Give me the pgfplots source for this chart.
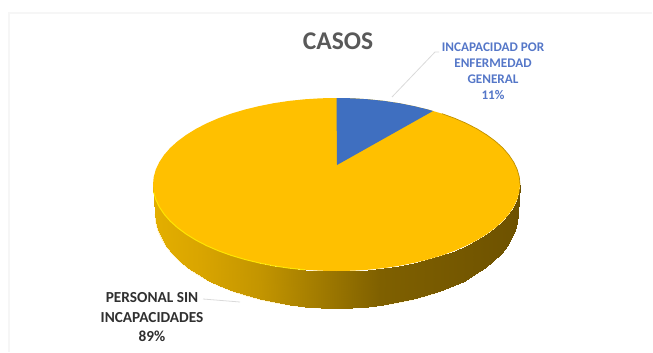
\documentclass[border=0pt]{standalone}
\usepackage{pgfplots}
\pgfplotsset{compat=1.18}
\usepackage{fontspec}
\setmainfont{Carlito}
\definecolor{gold}{HTML}{FFC000}
\definecolor{sliceblue}{HTML}{3F6FC0}
\definecolor{titlegray}{HTML}{595959}
\definecolor{labelblue}{HTML}{5577C8}
\definecolor{labeldark}{HTML}{303030}
\definecolor{leader}{HTML}{DADADA}
\definecolor{frameline}{HTML}{F6F6F6}
\begin{document}
\begin{tikzpicture}
\begin{axis}[
  scale only axis, width=653pt, height=353pt,
  xmin=0, xmax=653, ymin=0, ymax=353, y dir=reverse,
  axis lines=none, clip=false,
  % rim of the disc: lit on the left, in shade on the right
  colormap={rimgold}{
    rgb255(155pt)=(227,174,0) rgb255(200pt)=(217,165,0) rgb255(260pt)=(195,149,0)
    rgb255(330pt)=(155,118,0) rgb255(380pt)=(127,96,0) rgb255(517pt)=(110,82,0)},
  point meta min=155, point meta max=517,
]
% keeps the full chart area in the page
\path (axis cs:0,0) rectangle (axis cs:653,353);

% chart area frame
\addplot[frameline, line width=1.5pt] coordinates {(9,352) (9,13) (652,13)};

% soft edge under the rim
\addplot[color=gold!25, line width=1.6pt] coordinates {
(155.5,214) (156.2,222.2) (158.3,230.3) (161.7,238.3) (166.4,246.1) (172.5,253.7) (179.7,261) (188.2,267.9) (197.8,274.4) (208.5,280.5) (220.2,286) (232.7,291) (246,295.4) (260,299.2) (274.6,302.3) (289.7,304.8) (305.1,306.6) (320.7,307.6) (336.5,308) (352.3,307.6) (367.9,306.6) (383.3,304.8) (398.4,302.3) (413,299.2) (427,295.4) (440.3,291) (452.8,286) (464.5,280.5) (475.2,274.4) (484.8,267.9) (493.3,261) (500.5,253.7) (506.6,246.1) (511.3,238.3) (514.7,230.3) (516.8,222.2) (517.5,214)};

% rim of the disc: upper and lower edge as a two-row lattice
\addplot[patch, patch type=rectangle, mesh input=lattice, mesh/cols=37,
  shader=interp, point meta=x] coordinates {
(153,184.5) (153.7,192) (155.8,199.5) (159.3,206.9) (164.1,214.1) (170.2,221.1) (177.6,227.75) (186.2,234.1) (195.9,240.1) (206.7,245.7) (218.5,250.8) (231.2,255.4) (244.75,259.4) (259,262.9) (273.7,265.8) (289,268.1) (304.6,269.7) (320.5,270.7) (336.5,271) (352.5,270.7) (368.4,269.7) (384,268.1) (399.3,265.8) (414,262.9) (428.25,259.4) (441.8,255.4) (454.5,250.8) (466.3,245.7) (477.1,240.1) (486.8,234.1) (495.4,227.75) (502.8,221.1) (508.9,214.1) (513.7,206.9) (517.2,199.5) (519.3,192) (520,184.5)

(155.5,214) (156.2,222.2) (158.3,230.3) (161.7,238.3) (166.4,246.1) (172.5,253.7) (179.7,261) (188.2,267.9) (197.8,274.4) (208.5,280.5) (220.2,286) (232.7,291) (246,295.4) (260,299.2) (274.6,302.3) (289.7,304.8) (305.1,306.6) (320.7,307.6) (336.5,308) (352.3,307.6) (367.9,306.6) (383.3,304.8) (398.4,302.3) (413,299.2) (427,295.4) (440.3,291) (452.8,286) (464.5,280.5) (475.2,274.4) (484.8,267.9) (493.3,261) (500.5,253.7) (506.6,246.1) (511.3,238.3) (514.7,230.3) (516.8,222.2) (517.5,214)};

% top face: PERSONAL SIN INCAPACIDADES, 89 %
\addplot[draw=none, fill=gold] coordinates {
(336.5,98) (352.5,98.3) (368.4,99.3) (384,100.9) (399.3,103.2) (414,106.1) (428.25,109.6) (441.8,113.6) (454.5,118.2) (466.3,123.3) (477.1,128.9) (486.8,134.9) (495.4,141.25) (502.8,147.9) (508.9,154.9) (513.7,162.1) (517.2,169.5) (519.3,177) (520,184.5)
(519.3,192) (517.2,199.5) (513.7,206.9) (508.9,214.1) (502.8,221.1) (495.4,227.75) (486.8,234.1) (477.1,240.1) (466.3,245.7) (454.5,250.8) (441.8,255.4) (428.25,259.4) (414,262.9) (399.3,265.8) (384,268.1) (368.4,269.7) (352.5,270.7) (336.5,271)
(320.5,270.7) (304.6,269.7) (289,268.1) (273.7,265.8) (259,262.9) (244.75,259.4) (231.2,255.4) (218.5,250.8) (206.7,245.7) (195.9,240.1) (186.2,234.1) (177.6,227.75) (170.2,221.1) (164.1,214.1) (159.3,206.9) (155.8,199.5) (153.7,192) (153,184.5)
(153.7,177) (155.8,169.5) (159.3,162.1) (164.1,154.9) (170.2,147.9) (177.6,141.25) (186.2,134.9) (195.9,128.9) (206.7,123.3) (218.5,118.2) (231.2,113.6) (244.75,109.6) (259,106.1) (273.7,103.2) (289,100.9) (304.6,99.3) (320.5,98.3)} --cycle;

% lit lip along the front left of the top face
\addplot[color=yellow!75!gold, line width=1pt] coordinates {
(153.7,192) (155.8,199.5) (159.3,206.9) (164.1,214.1) (170.2,221.1) (177.6,227.75) (186.2,234.1) (195.9,240.1) (206.7,245.7) (218.5,250.8) (231.2,255.4) (244.75,259.4) (259,262.9) (273.7,265.8) (289,268.1) (304.6,269.7)};
% darker edge on the far right of the top face
\addplot[color=gold!75!black, line width=0.7pt] coordinates {
(441.8,113.6) (454.5,118.2) (466.3,123.3) (477.1,128.9) (486.8,134.9) (495.4,141.25) (502.8,147.9) (508.9,154.9) (513.7,162.1) (517.2,169.5) (519.3,177) (520,184.5)};

% top face: INCAPACIDAD POR ENFERMEDAD GENERAL, 11 %
\addplot[draw=none, fill=sliceblue] coordinates {
(337,165) (336.5,98) (352.5,98.3) (368.4,99.3) (384,100.9) (399.3,103.2) (414,106.1) (428.25,109.6) (433,111)} --cycle;

% leader lines
\addplot[leader, line width=0.8pt] coordinates {(392,97) (435,52) (439,52)};
\addplot[leader, line width=0.8pt] coordinates {(203,299) (240,302)};

\node[font=\fontsize{25.5}{30}\selectfont\bfseries, text=titlegray, anchor=center] at (axis cs:338,41) {CASOS};
\node[font=\fontsize{13.2}{16}\selectfont\bfseries, text=labelblue, align=center, anchor=center] at (axis cs:493,71) {INCAPACIDAD POR\\ENFERMEDAD\\GENERAL\\11\%};
\node[font=\fontsize{15.3}{19.5}\selectfont\bfseries, text=labeldark, align=center, anchor=center] at (axis cs:152,317.5) {PERSONAL SIN\\INCAPACIDADES\\89\%};
\end{axis}
\end{tikzpicture}
\end{document}
